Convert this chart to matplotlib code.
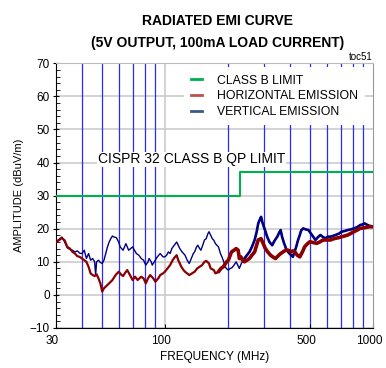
import numpy as np
import matplotlib.pyplot as plt
from matplotlib.lines import Line2D
from matplotlib.ticker import MultipleLocator, NullLocator
from matplotlib.transforms import ScaledTranslation

plt.rcParams['font.family'] = ['Liberation Sans', 'DejaVu Sans']

# vertical emission (MHz, dBuV/m)
freq_v = [30, 31, 32, 33, 34, 35, 36, 37, 38, 39, 40, 41, 42, 43, 44, 45, 46, 46.5, 47, 48,
          49, 50, 51, 52, 53, 54, 55, 56, 57, 58.5, 60, 61, 62, 63, 64, 65, 66, 67, 68.5, 70,
          71, 73, 75, 77, 79, 81, 83, 84, 86, 87, 89, 90, 92, 95, 98, 100, 102, 104, 106, 108,
          111, 114, 116, 118, 121, 125, 128, 131, 134, 137, 139, 142, 144, 147, 149, 152, 155, 158, 161, 163,
          166, 169, 172, 175, 178, 181, 185, 188, 192, 195, 198, 202, 206, 210, 215, 220, 224, 228, 233, 241,
          248, 255, 262, 270, 276, 281, 286, 290, 294, 299, 305, 310, 318, 328, 334, 340, 347, 354, 360, 366,
          374, 385, 397, 412, 428, 436, 445, 452, 462, 475, 490, 500, 509, 520, 529, 545, 559, 575, 591, 608,
          624, 640, 660, 685, 707, 730, 756, 783, 810, 840, 867, 890, 912, 950, 1000]
vert = [16.0, 16.8, 17.5, 16.0, 14.2, 13.8, 13.5, 13.0, 13.3, 12.6, 12.5, 13.5, 11.0, 12.5, 10.5, 11.0, 10.0, 6.0, 10.0, 10.5,
        9.8, 9.5, 10.5, 12.5, 14.5, 16.0, 17.0, 17.8, 17.5, 17.3, 16.0, 14.5, 14.0, 13.5, 14.5, 15.5, 14.5, 13.5, 14.0, 14.5,
        13.8, 12.5, 12.0, 11.0, 10.5, 9.0, 10.0, 11.0, 10.0, 9.0, 10.0, 10.5, 11.5, 12.5, 11.5, 11.5, 12.0, 13.0, 12.5, 14.0,
        15.0, 16.0, 15.0, 14.0, 13.0, 12.0, 10.5, 9.5, 11.0, 12.5, 13.0, 14.5, 15.0, 14.0, 13.5, 15.0, 16.6, 17.0, 18.5, 19.1,
        18.0, 17.0, 16.5, 15.5, 15.0, 14.5, 12.5, 11.5, 10.0, 8.5, 7.9, 7.5, 8.0, 8.2, 9.0, 10.0, 9.0, 8.0, 9.5, 11.0,
        12.0, 13.0, 14.5, 16.6, 19.0, 21.6, 22.8, 23.6, 22.0, 20.6, 19.0, 17.6, 16.0, 15.0, 16.0, 16.8, 17.6, 18.8, 19.6, 17.5,
        15.6, 13.5, 12.5, 11.5, 14.6, 16.5, 18.1, 19.5, 20.1, 19.8, 19.6, 18.8, 18.1, 17.3, 16.6, 17.5, 18.1, 17.5, 17.1, 17.6,
        17.6, 17.8, 18.1, 18.5, 19.1, 19.3, 19.6, 19.8, 20.1, 20.5, 21.1, 21.3, 21.6, 21.0, 20.6]

# horizontal emission (MHz, dBuV/m)
freq_h = [30, 31, 32, 33, 34, 35, 36, 37, 38, 39, 40, 41, 42, 43, 44, 45, 46, 47, 48, 49,
          50, 51, 53, 55, 56, 58, 60, 62, 63, 65, 66, 68, 70, 72, 74, 77, 79, 81, 83, 85,
          88, 90, 93, 95, 98, 100, 103, 106, 109, 112, 114, 116, 118, 120, 123, 125, 128, 131, 135, 139,
          143, 147, 151, 155, 158, 163, 166, 172, 175, 181, 186, 191, 198, 202, 209, 215, 220, 225, 228, 232,
          236, 241, 248, 255, 262, 270, 276, 281, 290, 297, 304, 312, 322, 330, 340, 350, 360, 370, 380, 392,
          404, 412, 421, 433, 445, 458, 470, 485, 498, 517, 537, 555, 575, 600, 624, 642, 660, 685, 707, 730,
          756, 783, 810, 840, 867, 910, 960, 1000]
horiz = [16.0, 16.5, 17.2, 16.5, 14.5, 14.0, 13.0, 12.5, 11.7, 11.5, 11.0, 10.5, 10.0, 8.5, 6.5, 6.0, 5.7, 6.2, 5.0, 3.5,
         1.0, 2.0, 3.0, 4.0, 4.5, 6.0, 7.0, 6.0, 5.7, 7.0, 7.5, 6.0, 4.5, 5.5, 4.5, 5.5, 5.0, 3.5, 5.0, 6.0,
         5.0, 4.0, 5.0, 6.0, 6.5, 7.0, 8.0, 9.0, 10.5, 11.5, 12.0, 10.5, 9.5, 8.5, 7.5, 7.0, 6.5, 6.0, 6.5, 7.0,
         8.0, 8.5, 9.0, 10.0, 10.3, 9.5, 8.0, 7.5, 6.5, 7.0, 8.0, 8.5, 10.0, 10.5, 13.0, 13.5, 14.0, 13.5, 11.0, 11.5,
         10.5, 10.0, 10.5, 11.0, 12.0, 13.0, 15.0, 16.6, 17.0, 15.5, 14.0, 13.0, 12.0, 11.5, 11.0, 11.8, 12.5, 13.0, 13.5, 13.5,
         13.0, 13.3, 13.0, 12.0, 11.5, 13.0, 14.6, 15.5, 16.1, 15.8, 15.6, 16.0, 16.6, 16.6, 16.6, 16.9, 17.1, 17.3, 17.6, 17.8,
         18.1, 18.6, 19.1, 19.6, 20.1, 20.3, 20.6, 20.6]

# CISPR 32 class B quasi-peak limit
limit_freq = [30, 230, 230, 1000]
limit_db = [30, 30, 37, 37]

grid_freqs = [40, 50, 60, 70, 80, 90, 200, 300, 400, 500, 600, 700, 800, 900]
xtick_vals = [30, 100, 500, 1000]
xtick_labels = ["30", "100", "500", "1000"]

fig = plt.figure(figsize=(3.86, 3.68), dpi=100)
ax = fig.add_axes([0.1451, 0.1087, 0.8212, 0.7193])
ax.set_xscale("log")
ax.set_xlim(30, 1000)
ax.set_ylim(-10, 70)

for y in range(-10, 71, 10):
    ax.axhline(y, color="#cccccc", lw=1.2, zorder=0)
ax.axvline(100, color="#cccccc", lw=1.2, zorder=0)
for f in grid_freqs:
    ax.axvline(f, color="#2a2aff", lw=0.9, zorder=1)

ax.plot(limit_freq, limit_db, color="#00b050", lw=1.5, zorder=3)

fv = np.array(freq_v)
fh = np.array(freq_h)
v = np.array(vert)
h = np.array(horiz)
# the traces get a wider noise band at the high end
ax.plot(fv, v, color="#000080", lw=1.0, zorder=4)
ax.plot(fv[fv >= 240], v[fv >= 240], color="#000080", lw=1.9, zorder=4,
        solid_capstyle="round")
ax.plot(fh, h, color="#8b0000", lw=1.6, zorder=5)
ax.plot(fh[fh >= 180], h[fh >= 180], color="#8b0000", lw=2.6, zorder=5,
        solid_capstyle="round")

ax.text(47.5, 41, "CISPR 32 CLASS B QP LIMIT", fontsize=10, ha="left", va="center",
        bbox=dict(fc="white", ec="none", pad=0.5), zorder=6)

handles = [Line2D([], [], color="#00b050", lw=2),
           Line2D([], [], color="#c0504d", lw=2),
           Line2D([], [], color="#3a5a8c", lw=2)]
leg = ax.legend(handles, ["CLASS B LIMIT", "HORIZONTAL EMISSION", "VERTICAL EMISSION"],
                loc="upper right", bbox_to_anchor=(0.975, 0.985), fontsize=8.8,
                handlelength=0.9, handletextpad=1.2, labelspacing=0.3, borderpad=0.6,
                borderaxespad=0, frameon=True, facecolor="white", edgecolor="none",
                framealpha=1, fancybox=False)
leg.set_zorder(10)

ax.set_xticks(xtick_vals)
ax.set_xticklabels(xtick_labels)
ax.xaxis.set_minor_locator(NullLocator())
ax.tick_params(axis="x", direction="in", length=3, labelsize=8.5, pad=5)
for lbl in ax.get_xticklabels():
    lbl.set_transform(lbl.get_transform() + ScaledTranslation(-0.04, 0, fig.dpi_scale_trans))

ax.set_yticks(range(-10, 71, 10))
ax.yaxis.set_minor_locator(MultipleLocator(2))
ax.tick_params(axis="y", which="major", direction="inout", length=5, labelsize=8.5, pad=2)
ax.tick_params(axis="y", which="minor", direction="in", length=3)

ax.spines["top"].set_color("#bbbbbb")
ax.spines["right"].set_color("#999999")

ax.set_xlabel("FREQUENCY (MHz)", fontsize=8.5, labelpad=3)
ax.set_ylabel("AMPLITUDE (dBuV/m)", fontsize=8, labelpad=4)

fig.text(218 / 386, 1 - 21 / 368, "RADIATED EMI CURVE", ha="center", va="center",
         fontsize=10, fontweight="bold")
fig.text(218 / 386, 1 - 43 / 368, "(5V OUTPUT, 100mA LOAD CURRENT)", ha="center", va="center",
         fontsize=10, fontweight="bold")
fig.text(373 / 386, 1 - 57 / 368, "toc51", ha="right", va="center", fontsize=7)

fig.savefig("out.png", dpi=100)
